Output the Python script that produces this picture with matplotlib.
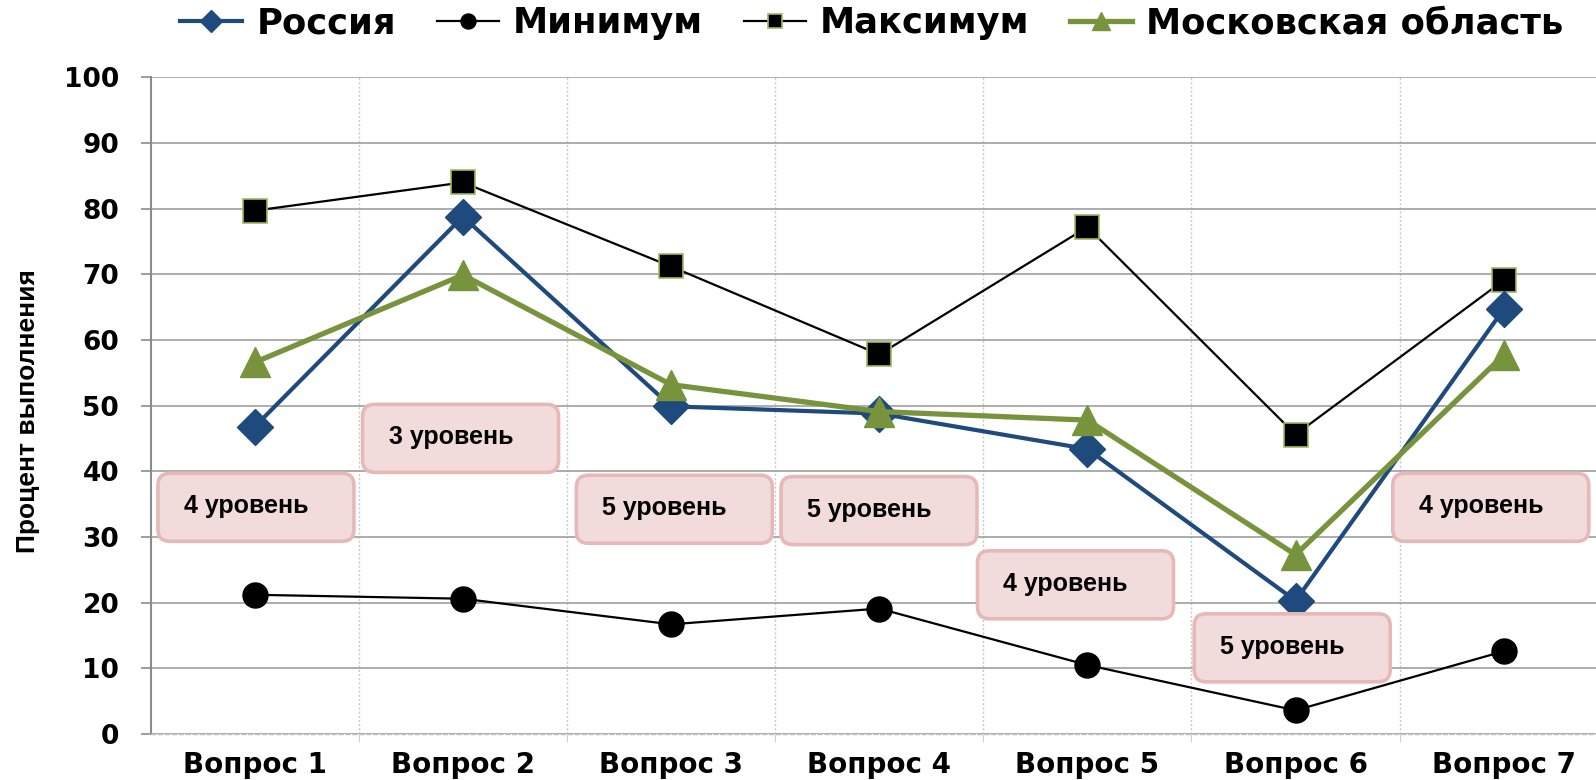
import matplotlib
matplotlib.use("Agg")
import matplotlib.pyplot as plt
from matplotlib.patches import FancyBboxPatch
from matplotlib.transforms import IdentityTransform
from matplotlib.ticker import FixedLocator

# ---------------- data ----------------
questions = ["Вопрос 1", "Вопрос 2", "Вопрос 3", "Вопрос 4",
             "Вопрос 5", "Вопрос 6", "Вопрос 7"]
russia = [46.8, 78.8, 49.9, 48.8, 43.4, 20.3, 64.7]
minimum = [21.2, 20.6, 16.7, 19.1, 10.5, 3.6, 12.6]
maximum = [79.7, 84.0, 71.2, 57.8, 77.2, 45.6, 69.1]
moscow = [56.6, 69.9, 53.2, 49.1, 47.8, 27.3, 57.7]
series_names = ["Россия", "Минимум", "Максимум", "Московская область"]
levels = ["4 уровень", "3 уровень", "5 уровень", "5 уровень",
          "4 уровень", "5 уровень", "4 уровень"]
y_ticks = list(range(0, 101, 10))
y_title = "Процент выполнения"

# ---------------- layout (annotation box placement) ----------------
box_left = [-0.465, 0.518, 1.545, 2.528, 3.472, 4.513, 5.467]   # category units
box_top = [39.7, 50.2, 39.4, 39.2, 27.9, 18.3, 39.7]            # value units
box_w_px, box_h_px = 196, 68

BLUE = "#1f4a7d"
GREEN = "#77933c"
GRID = "#a6a6a6"

fig = plt.figure(figsize=(15.96, 7.8), dpi=100)
ax = fig.add_axes([0.0944, 0.059, 0.913, 0.8418])
x = list(range(len(questions)))
ax.set_xlim(-0.5, len(questions) - 0.5)
ax.set_ylim(0, 100)

# grid
ax.set_yticks(y_ticks)
ax.yaxis.grid(True, color=GRID, lw=1.3, zorder=0)
ax.xaxis.set_minor_locator(FixedLocator([i + 0.5 for i in range(len(questions) - 1)]))
ax.xaxis.grid(True, which="minor", color="#c8c8c8", lw=1.0, ls=(0, (1.5, 1.5)), zorder=0)
ax.set_axisbelow(True)

for s in ["top", "right"]:
    ax.spines[s].set_visible(False)
ax.spines["left"].set_color("#8c8c8c")
ax.spines["left"].set_linewidth(1.5)
ax.spines["bottom"].set_color("#c0c0c0")
ax.spines["bottom"].set_linewidth(1.0)
ax.spines["bottom"].set_linestyle((0, (3, 2)))

ax.set_xticks(x)
ax.set_xticklabels(questions, fontfamily="DejaVu Sans", fontweight="bold", fontsize=20)
ax.tick_params(axis="x", which="major", length=0, pad=12.5)
ax.tick_params(axis="x", which="minor", length=6, color="#c8c8c8", direction="out")
ax.set_yticklabels([str(v) for v in y_ticks], fontfamily="DejaVu Sans", fontweight="bold", fontsize=19)
ax.tick_params(axis="y", length=7.2, color="#8c8c8c", width=1.2, pad=15.5, direction="out")

# annotation boxes (in pixel space so corners stay round)
fig.canvas.draw()
for lbl, bl, bt in zip(levels, box_left, box_top):
    px, py = ax.transData.transform((bl, bt))
    patch = FancyBboxPatch((px, py - box_h_px), box_w_px, box_h_px,
                           boxstyle="round,pad=0,rounding_size=12",
                           transform=IdentityTransform(),
                           facecolor="#f2dcdb", edgecolor="#e6b9b8", lw=2.6,
                           zorder=2)
    fig.add_artist(patch)
    fig.text((px + 26) / 1596, (py - 40) / 780, lbl,
             ha="left", va="baseline", fontsize=18, fontweight="bold",
             fontfamily="Liberation Sans", zorder=3)

# lines
l_min, = ax.plot(x, minimum, color="black", lw=1.6, marker="o", ms=18,
                 markerfacecolor="black", markeredgecolor="black", zorder=4)
l_max, = ax.plot(x, maximum, color="black", lw=1.6, marker="s", ms=17,
                 markerfacecolor="black", markeredgecolor="#9bbb59", markeredgewidth=1.2, zorder=4)
l_ru, = ax.plot(x, russia, color=BLUE, lw=3.0, marker="D", ms=18,
                markerfacecolor=BLUE, markeredgecolor=BLUE, zorder=5)
l_mo, = ax.plot(x, moscow, color=GREEN, lw=3.8, marker="^", ms=22,
                markerfacecolor=GREEN, markeredgecolor=GREEN, zorder=6)

fig.legend([l_ru, l_min, l_max, l_mo], series_names, loc="center",
           bbox_to_anchor=(0.5464, 0.970), ncol=4, frameon=False,
           prop={"family": "DejaVu Sans", "weight": "bold", "size": 25.5},
           handlelength=1.75, handletextpad=0.4, columnspacing=1.15, markerscale=0.6)

fig.text(28 / 1596, 1 - 411.5 / 780, y_title, rotation=90, ha="center", va="center",
         fontsize=19, fontweight="bold", fontfamily="Liberation Sans")

fig.savefig("out.png", dpi=100)
